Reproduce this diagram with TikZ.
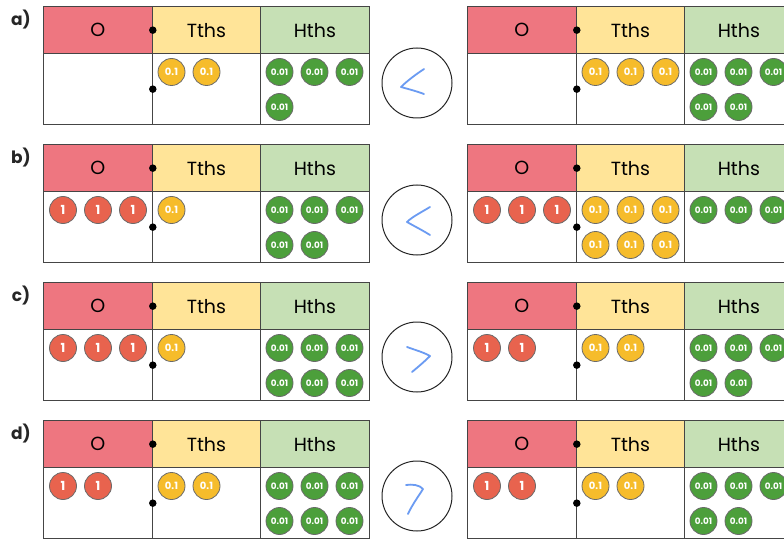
\documentclass[tikz,border=0pt]{standalone}
\usepackage{fontspec}
\setmainfont{Poppins}
\setsansfont{Poppins}
\definecolor{ored}{HTML}{EE7680}
\definecolor{tyel}{HTML}{FFE498}
\definecolor{hgrn}{HTML}{C6E0B5}
\definecolor{cred}{HTML}{E8634E}
\definecolor{cyel}{HTML}{F6BC2B}
\definecolor{cgrn}{HTML}{4C9F3B}
\definecolor{tline}{HTML}{454545}
\definecolor{pen}{HTML}{6B9BF2}
\tikzset{
  hdr/.style={draw=tline, line width=1.3pt, minimum width=108.5pt, minimum height=47pt, inner sep=0pt, anchor=north west, font=\fontsize{19}{19}\selectfont},
  bod/.style={draw=tline, line width=1.3pt, fill=white, minimum width=108.5pt, minimum height=71pt, inner sep=0pt, anchor=north west},
  ctr/.style={circle, draw=tline!80, line width=0.8pt, minimum size=27pt, inner sep=0pt, text=white, font=\bfseries\fontsize{8}{8}\selectfont},
  ctrone/.style={ctr, fill=cred, font=\bfseries\fontsize{12.5}{12.5}\selectfont},
  ctrten/.style={ctr, fill=cyel, font=\bfseries\fontsize{10}{10}\selectfont},
  ctrhun/.style={ctr, fill=cgrn, font=\bfseries\fontsize{8.8}{8.8}\selectfont},
  cmp/.style={circle, draw=black!85, line width=1pt, minimum size=70pt, inner sep=0pt},
  penline/.style={draw=pen, line width=1.8pt, line cap=round, line join=round},
  lbl/.style={font=\bfseries\fontsize{17}{17}\selectfont, text=black!85},
  dotc/.style={circle, fill=black, inner sep=0pt, minimum size=7.5pt}
}
% #1 name, #2 x-left, #3 y-top, #4 ones, #5 tenths, #6 hundredths
\newcommand\pvtab[6]{%
  \node[hdr, fill=ored] (#1O) at (#2,#3) {O};
  \node[hdr, fill=tyel] (#1T) at (#2+108.5,#3) {Tths};
  \node[hdr, fill=hgrn] (#1H) at (#2+217,#3) {Hths};
  \node[bod] (#1Ob) at (#2,#3+47) {};
  \node[bod] (#1Tb) at (#2+108.5,#3+47) {};
  \node[bod] (#1Hb) at (#2+217,#3+47) {};
  \node[dotc] (#1d1) at (#1O.east) {};
  \node[dotc] (#1d2) at (#1Ob.east) {};
  \ifnum#4>0
  \foreach \i in {1,...,#4}{%
    \pgfmathtruncatemacro\cx{mod(\i-1,3)}\pgfmathtruncatemacro\cy{div(\i-1,3)}%
    \node[ctrone] (#1one\i) at (#2+20+35*\cx,#3+66+35*\cy) {1};}
  \fi
  \ifnum#5>0
  \foreach \i in {1,...,#5}{%
    \pgfmathtruncatemacro\cx{mod(\i-1,3)}\pgfmathtruncatemacro\cy{div(\i-1,3)}%
    \node[ctrten] (#1ten\i) at (#2+128.5+35*\cx,#3+66+35*\cy) {0.1};}
  \fi
  \ifnum#6>0
  \foreach \i in {1,...,#6}{%
    \pgfmathtruncatemacro\cx{mod(\i-1,3)}\pgfmathtruncatemacro\cy{div(\i-1,3)}%
    \node[ctrhun] (#1hun\i) at (#2+236.5+35*\cx,#3+66+35*\cy) {0.01};}
  \fi
}
\begin{document}
\begin{tikzpicture}[x=1pt,y=-1pt]
\useasboundingbox (0,0) rectangle (784,540);
\clip (0,0) rectangle (784,540);
\fill[white] (0,0) rectangle (784,540);
% row a
\node[lbl] (la) at (21,20) {a)};
\pvtab{aL}{43}{6}{0}{2}{4}
\pvtab{aR}{467}{6}{0}{3}{5}
\node[cmp] (ca) at (417,83) {};
\draw[penline] (424,69) .. controls (412,77) and (405,83) .. (401,87) .. controls (408,89) and (416,91) .. (424,94);
% row b
\node[lbl] (lb) at (21,158) {b)};
\pvtab{bL}{43}{144}{3}{1}{5}
\pvtab{bR}{467}{144}{3}{6}{3}
\node[cmp] (cb) at (417,220) {};
\draw[penline] (430,207) .. controls (420,213) and (412,217) .. (407,222) .. controls (414,226) and (422,230) .. (430,235);
% row c
\node[lbl] (lc) at (21,296) {c)};
\pvtab{cL}{43}{282}{3}{1}{6}
\pvtab{cR}{467}{282}{2}{2}{5}
\node[cmp] (cc) at (417,357) {};
\draw[penline] (407,347) .. controls (415,350) and (423,352) .. (430,356) .. controls (424,362) and (418,367) .. (412,372);
% row d
\node[lbl] (ld) at (21,434) {d)};
\pvtab{dL}{43}{420}{2}{2}{6}
\pvtab{dR}{467}{420}{2}{2}{5}
\node[cmp] (cd) at (417,496) {};
\draw[penline] (406,485) .. controls (412,484) and (420,485) .. (423,489) .. controls (418,497) and (412,505) .. (408,514);
\end{tikzpicture}
\end{document}
